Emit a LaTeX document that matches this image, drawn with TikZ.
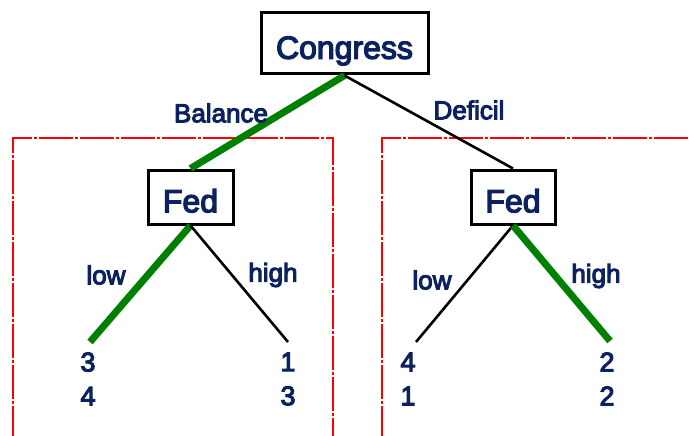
\documentclass[tikz,border=0pt]{standalone}
\usepackage{fontspec}
\setmainfont{Liberation Sans}
\newfontfamily\thickfont{Liberation Sans}[FakeBold=4]
\definecolor{navy}{RGB}{12,34,96}
\definecolor{gtree}{RGB}{0,128,0}
\begin{document}
\begin{tikzpicture}[x=1pt,y=-1pt,
  player/.style={draw=black,line width=3pt,fill=white,text=navy,inner sep=0pt,text height=30.5pt,text depth=0pt,font=\thickfont\fontsize{32}{36}\selectfont},
  lbl/.style={text=navy,inner sep=0pt,font=\thickfont\fontsize{26}{30}\selectfont},
  payoff/.style={text=navy,inner sep=0pt,align=center,font=\thickfont\fontsize{27}{34}\selectfont},
  chosen/.style={draw=gtree,line width=7pt},
  other/.style={draw=black,line width=2.6pt},
  frame/.style={draw=red,line width=2.2pt,dash pattern=on 34pt off 2pt on 3pt off 2pt}]
\useasboundingbox (0,0) rectangle (689,436);
\draw[frame] (13,440) -- (13,138) -- (333,138) -- (333,440);
\draw[frame] (382,440) -- (382,138) -- (692,138);
\node[player,minimum width=167pt,minimum height=61pt] (cong) at (344.5,43.5) {Congress};
\node[player,minimum width=85pt,minimum height=54pt] (fedL) at (190.5,197) {Fed};
\node[player,minimum width=84pt,minimum height=54pt] (fedR) at (513,197) {Fed};
\coordinate (l1) at (90,342);
\coordinate (l2) at (288,342);
\coordinate (l3) at (416,342);
\coordinate (l4) at (610,341);
\draw[chosen] (cong.south) -- (fedL.north);
\draw[other] (cong.south) -- (fedR.north);
\draw[chosen] (fedL.south) -- (l1);
\draw[other] (fedL.south) -- (l2);
\draw[other] (fedR.south) -- (l3);
\draw[chosen] (fedR.south) -- (l4);
\node[lbl] (bal) at (221,113) {Balance};
\node[lbl] (def) at (469,110) {Deficil};
\node[lbl] (lowL) at (106,275) {low};
\node[lbl] (highL) at (273,275) {high};
\node[lbl] (lowR) at (432,280) {low};
\node[lbl] (highR) at (596,276) {high};
\node[payoff] (p1) at (88,379) {3\\4};
\node[payoff] (p2) at (288,379) {1\\3};
\node[payoff] (p3) at (408,379) {4\\1};
\node[payoff] (p4) at (607,379) {2\\2};
\end{tikzpicture}
\end{document}
